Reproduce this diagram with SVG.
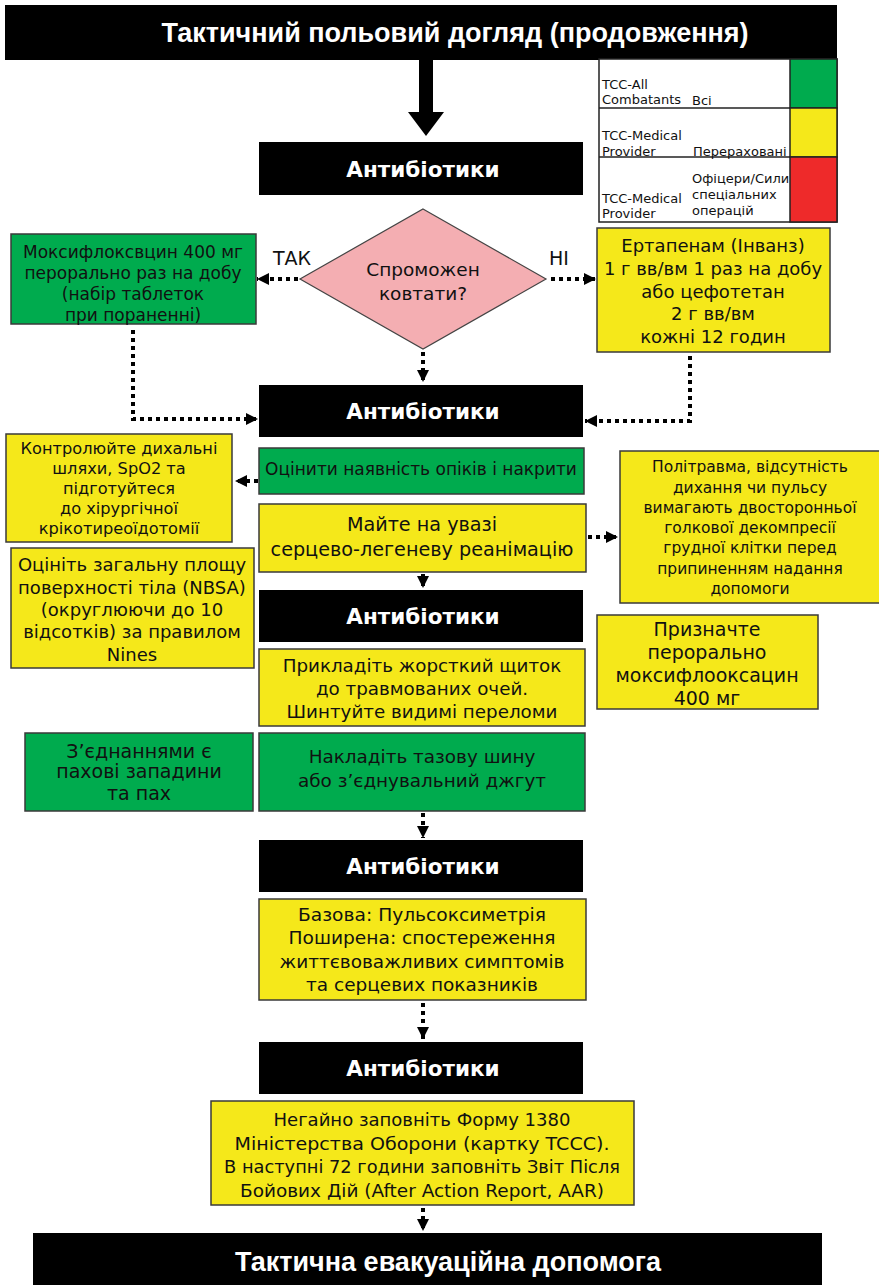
<svg xmlns="http://www.w3.org/2000/svg" width="879" height="1285" viewBox="0 0 879 1285">
<defs>
<marker id="ah" viewBox="0 0 12 12" markerWidth="12" markerHeight="12" refX="12" refY="6" orient="auto" markerUnits="userSpaceOnUse"><path d="M0,0 L12,6 L0,12 Z" fill="#000"/></marker>
<style>
text{font-family:"DejaVu Sans","Liberation Sans",sans-serif;fill:#111;text-anchor:middle;}
.hdr{fill:#000;}
.ht{fill:#fff;font-weight:bold;font-size:21.5px;}
.big{font-family:"Liberation Sans",Arial,sans-serif;fill:#fff;font-weight:bold;font-size:27px;}
.g{fill:#00ab4e;stroke:#3a3a3a;stroke-width:1.5;}
.y{fill:#f5e81a;stroke:#3a3a3a;stroke-width:1.5;}
.t{font-size:17px;}
.s{font-size:15.5px;}
.l{font-size:18px;}
.lg{font-size:13px;text-anchor:start;}
.c{fill:none;stroke:#000;stroke-width:4;stroke-dasharray:4 4;marker-end:url(#ah);}
</style>
</defs>

<g id="title"><rect class="hdr" x="5" y="5" width="832" height="55"/><text class="big" x="455" y="42">Тактичний польовий догляд (продовження)</text></g>

<g id="legend">
<rect x="599" y="59" width="238" height="163" fill="#fff" stroke="#222" stroke-width="1.5"/>
<rect x="790" y="59" width="47" height="49" fill="#00ab4e" stroke="#222" stroke-width="1.5"/>
<rect x="790" y="108" width="47" height="49" fill="#f5e81a" stroke="#222" stroke-width="1.5"/>
<rect x="790" y="157" width="47" height="65" fill="#ee2a2a" stroke="#222" stroke-width="1.5"/>
<line x1="599" y1="108" x2="790" y2="108" stroke="#222" stroke-width="1.5"/>
<line x1="599" y1="157" x2="790" y2="157" stroke="#222" stroke-width="1.5"/>
<text class="lg" x="602" y="89">TCC-All</text>
<text class="lg" x="602" y="104">Combatants</text>
<text class="lg" x="692" y="105">Всі</text>
<text class="lg" x="602" y="140">TCC-Medical</text>
<text class="lg" x="602" y="156">Provider</text>
<text class="lg" x="693" y="156">Перераховані</text>
<text class="lg" x="692" y="183">Офіцери/Сили</text>
<text class="lg" x="692" y="199">спеціальних</text>
<text class="lg" x="692" y="215">операцій</text>
<text class="lg" x="602" y="203">TCC-Medical</text>
<text class="lg" x="602" y="218">Provider</text>
</g>

<g id="bigarrow"><rect x="419" y="60" width="14" height="54" fill="#000"/><polygon points="408,112 444,112 426,136" fill="#000"/></g>

<g id="ab1"><rect class="hdr" x="259" y="142" width="324" height="53"/><text class="ht" x="423" y="177">Антибіотики</text></g>

<g id="decision"><polygon points="423,209 546,279 423,349 300,279" fill="#f4aeb2" stroke="#444" stroke-width="1.2"/>
<text x="423" y="276" font-size="18.5">Спроможен</text><text x="423" y="300" font-size="18.5">ковтати?</text></g>

<g id="lbl-yes"><text x="292" y="265" font-size="19">ТАК</text></g>
<g id="lbl-no"><text x="559" y="265" font-size="19">НІ</text></g>

<g id="moxi"><rect class="g" x="11" y="234" width="245" height="90"/>
<text class="t" x="133" y="258">Моксифлоксвцин 400 мг</text>
<text class="t" x="133" y="279">перорально раз на добу</text>
<text class="t" x="133" y="300">(набір таблеток</text>
<text class="t" x="133" y="321">при пораненні)</text></g>

<g id="ertapenem"><rect class="y" x="597" y="228" width="233" height="124"/>
<text x="713" y="252" font-size="18">Ертапенам (Інванз)</text>
<text x="713" y="275" font-size="18">1 г вв/вм 1 раз  на добу</text>
<text x="713" y="298" font-size="18">або цефотетан</text>
<text x="713" y="320" font-size="18">2 г вв/вм</text>
<text x="713" y="343" font-size="18">кожні 12 годин</text></g>

<g id="ab2"><rect class="hdr" x="259" y="385" width="324" height="52"/><text class="ht" x="423" y="419">Антибіотики</text></g>

<g id="airway"><rect class="y" x="6" y="434" width="226" height="108"/>
<text x="119" y="454" font-size="16.2">Контролюйте дихальні</text>
<text x="119" y="474" font-size="16.2">шляхи, SpO2 та</text>
<text x="119" y="494" font-size="16.2">підготуйтеся</text>
<text x="119" y="514" font-size="16.2">до хірургічної</text>
<text x="119" y="534" font-size="16.2">крікотиреоїдотомії</text></g>

<g id="burns"><rect class="g" x="259" y="448" width="325" height="46"/>
<text class="t" x="421" y="475">Оцінити наявність опіків і накрити</text></g>

<g id="cpr"><rect class="y" x="259" y="504" width="327" height="68"/>
<text x="422" y="531" font-size="19.2">Майте на увазі</text>
<text x="422" y="556" font-size="19.2">серцево-легеневу реанімацію</text></g>

<g id="polytrauma"><rect class="y" x="620" y="451" width="262" height="152"/>
<text class="s" x="750" y="472">Політравма, відсутність</text>
<text class="s" x="750" y="493">дихання чи пульсу</text>
<text class="s" x="750" y="513">вимагають двосторонньої</text>
<text class="s" x="750" y="533">голкової декомпресії</text>
<text class="s" x="750" y="553">грудної клітки перед</text>
<text class="s" x="750" y="574">припиненням надання</text>
<text class="s" x="750" y="594">допомоги</text></g>

<g id="nbsa"><rect class="y" x="11" y="548" width="243" height="120"/>
<text class="l" x="132" y="571">Оцініть загальну площу</text>
<text class="l" x="132" y="594">поверхності тіла (NBSA)</text>
<text class="l" x="132" y="616">(округлюючи до 10</text>
<text class="l" x="132" y="638">відсотків) за правилом</text>
<text class="l" x="132" y="661">Nines</text></g>

<g id="ab3"><rect class="hdr" x="259" y="590" width="324" height="52"/><text class="ht" x="423" y="624">Антибіотики</text></g>

<g id="oralmoxi"><rect class="y" x="597" y="615" width="221" height="94"/>
<text x="707" y="636" font-size="19">Призначте</text>
<text x="707" y="659" font-size="19">перорально</text>
<text x="707" y="682" font-size="19">моксифлооксацин</text>
<text x="707" y="705" font-size="19">400 мг</text></g>

<g id="eyes"><rect class="y" x="259" y="649" width="326" height="77"/>
<text x="422" y="672" font-size="18.3">Прикладіть жорсткий щиток</text>
<text x="422" y="695" font-size="18.3">до травмованих очей.</text>
<text x="422" y="718" font-size="18.3">Шинтуйте видимі переломи</text></g>

<g id="junctions"><rect class="g" x="25" y="733" width="228" height="78"/>
<text x="139" y="758" font-size="19">З’єднаннями є</text>
<text x="139" y="778" font-size="19">пахові западини</text>
<text x="139" y="800" font-size="19">та пах</text></g>

<g id="pelvic"><rect class="g" x="259" y="733" width="326" height="78"/>
<text x="422" y="763" font-size="18.4">Накладіть тазову шину</text>
<text x="422" y="787" font-size="18.4">або з’єднувальний джгут</text></g>

<g id="ab4"><rect class="hdr" x="259" y="840" width="324" height="52"/><text class="ht" x="423" y="874">Антибіотики</text></g>

<g id="monitor"><rect class="y" x="259" y="899" width="327" height="101"/>
<text x="422" y="921" font-size="18.5" textLength="248" lengthAdjust="spacingAndGlyphs">Базова: Пульсоксиметрія</text>
<text x="422" y="944" font-size="18.5" textLength="267" lengthAdjust="spacingAndGlyphs">Поширена: спостереження</text>
<text x="422" y="968" font-size="18.5" textLength="285" lengthAdjust="spacingAndGlyphs">життєвоважливих симптомів</text>
<text x="422" y="991" font-size="18.5" textLength="232" lengthAdjust="spacingAndGlyphs">та серцевих показників</text></g>

<g id="ab5"><rect class="hdr" x="259" y="1042" width="324" height="52"/><text class="ht" x="423" y="1076">Антибіотики</text></g>

<g id="document"><rect class="y" x="211" y="1101" width="423" height="104"/>
<text x="422" y="1126" font-size="18.3" textLength="297" lengthAdjust="spacingAndGlyphs">Негайно заповніть Форму 1380</text>
<text x="422" y="1150" font-size="18.3" textLength="375" lengthAdjust="spacingAndGlyphs">Міністерства Оборони (картку TCCC).</text>
<text x="422" y="1173" font-size="18.3" textLength="396" lengthAdjust="spacingAndGlyphs">В наступні 72 години заповніть Звіт Після</text>
<text x="422" y="1197" font-size="18.3" textLength="364" lengthAdjust="spacingAndGlyphs">Бойових Дій (After Action Report, AAR)</text></g>

<g id="tacevac"><rect class="hdr" x="33" y="1233" width="789" height="52"/><text class="big" x="448" y="1271" font-size="28.5">Тактична евакуаційна допомога</text></g>

<g id="connectors">
<path class="c" d="M298,279 H257"/>
<path class="c" d="M551,279 H596"/>
<path class="c" d="M423,352 V382"/>
<path class="c" d="M133,330 V419 H258"/>
<path class="c" d="M690,356 V421 H585"/>
<path class="c" d="M258,481 H235"/>
<path class="c" d="M588,537 H618"/>
<path class="c" d="M423,574 V588"/>
<path class="c" d="M423,813 V838"/>
<path class="c" d="M423,1003 V1039"/>
<path class="c" d="M423,1208 V1231"/>
</g>
</svg>
